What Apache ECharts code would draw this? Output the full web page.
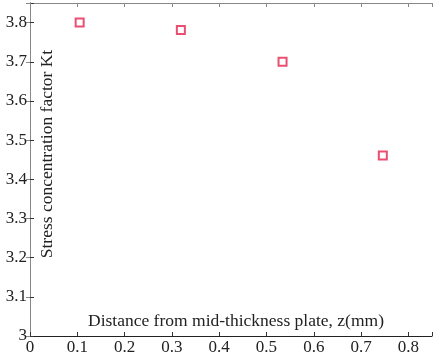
<!DOCTYPE html>
<html><head><meta charset="utf-8">
<script src="https://cdn.jsdelivr.net/npm/echarts@6/dist/echarts.min.js"></script>
<style>html,body{margin:0;padding:0;background:#fff}#c{width:436px;height:356px}</style>
</head><body><div id="c"></div>
<script>
const zValues = [0.105, 0.319, 0.534, 0.746];
const ktValues = [3.80, 3.781, 3.70, 3.461];
const xTitle = 'Distance from mid-thickness plate, z(mm)';
const yTitle = 'Stress concentration factor Kt';

const serif = 'Liberation Serif';
const chart = echarts.init(document.getElementById('c'));
chart.setOption({
  animation: false,
  textStyle: {fontFamily: serif},
  grid: {left: 30, right: 4, top: 3, bottom: 19, containLabel: false},
  xAxis: [{
    type: 'value', min: 0, max: 0.85, interval: 0.1, position: 'bottom',
    axisLine: {show: true, lineStyle: {color: '#222', width: 1}},
    axisTick: {show: true, inside: true, length: 4, lineStyle: {color: '#333'}},
    axisLabel: {margin: 3, fontFamily: serif, fontSize: 17, color: '#222',
      formatter: v => v > 0.82 ? '' : (v === 0 ? '0' : v.toFixed(1))},
    splitLine: {show: false}
  }, {
    type: 'value', min: 0, max: 0.85, interval: 0.1, position: 'top',
    axisLine: {show: true, lineStyle: {color: '#888', width: 1}},
    axisTick: {show: true, inside: true, length: 4, lineStyle: {color: '#888'}},
    axisLabel: {show: false}, splitLine: {show: false}
  }],
  yAxis: [{
    type: 'value', min: 3, max: 3.85, interval: 0.1, position: 'left',
    axisLine: {show: true, lineStyle: {color: '#222', width: 1}},
    axisTick: {show: true, inside: true, length: 4, lineStyle: {color: '#333'}},
    axisLabel: {margin: 3, fontFamily: serif, fontSize: 17, color: '#222',
      formatter: v => v > 3.82 ? '' : (v === 3 ? '3' : v.toFixed(1))},
    splitLine: {show: false}
  }, {
    type: 'value', min: 3, max: 3.85, interval: 0.1, position: 'right',
    axisLine: {show: true, lineStyle: {color: '#888', width: 1}},
    axisTick: {show: true, inside: true, length: 4, lineStyle: {color: '#888'}},
    axisLabel: {show: false}, splitLine: {show: false}
  }],
  graphic: [
    {type: 'text', x: 236, y: 321, style: {text: xTitle, align: 'center', verticalAlign: 'middle', fontFamily: serif, fontSize: 17.5, fill: '#222'}},
    {type: 'text', x: 47, y: 154, rotation: Math.PI / 2, style: {text: yTitle, align: 'center', verticalAlign: 'middle', fontFamily: serif, fontSize: 17.5, fill: '#222'}}
  ],
  series: [{
    type: 'scatter', xAxisIndex: 0, yAxisIndex: 0,
    data: zValues.map((z, i) => [z, ktValues[i]]),
    symbol: 'rect', symbolSize: 8,
    itemStyle: {color: '#fff', borderColor: '#e5234d', borderWidth: 2}
  }]
});
</script></body></html>
